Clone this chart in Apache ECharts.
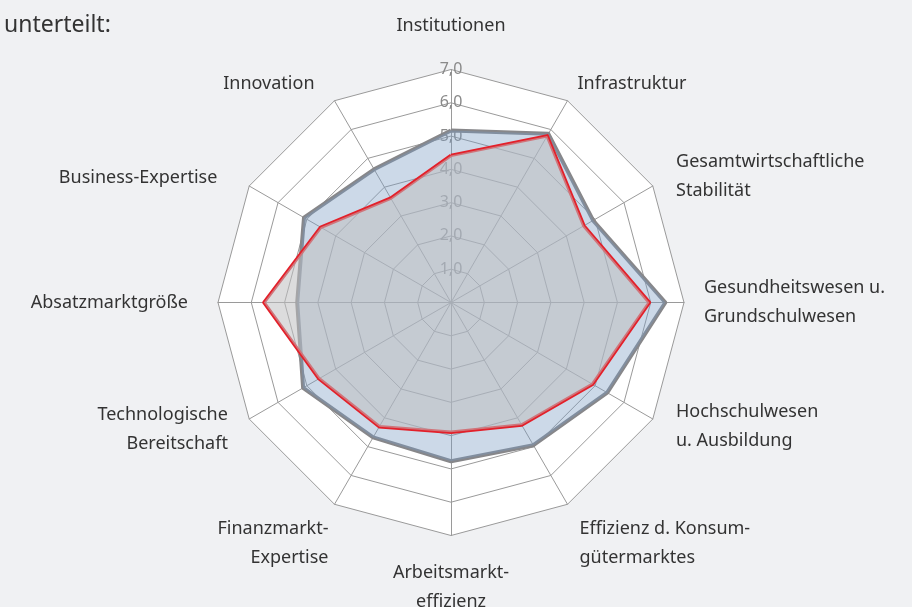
<!DOCTYPE html>
<html>
<head>
<meta charset="utf-8">
<script src="https://cdn.jsdelivr.net/npm/echarts@6/dist/echarts.min.js"></script>
<style>
  html, body { margin: 0; padding: 0; background: #f0f1f3; }
  #chart { width: 912px; height: 607px; }
</style>
</head>
<body>
<div id="chart"></div>
<script>
// Kategorien (gegen den Uhrzeigersinn ab oben, wie ECharts sie legt)
let kategorien = [
  'Institutionen',
  'Innovation',
  'Business-Expertise',
  'Absatzmarktgröße',
  'Technologische\nBereitschaft',
  'Finanzmarkt-\nExpertise',
  'Arbeitsmarkt-\neffizienz',
  'Effizienz d. Konsum-\ngütermarktes',
  'Hochschulwesen\nu. Ausbildung',
  'Gesundheitswesen u.\nGrundschulwesen',
  'Gesamtwirtschaftliche\nStabilität',
  'Infrastruktur'
];

// graue Linie, blaue Fläche
let werteGrau = [5.17, 4.62, 5.1, 4.62, 5.13, 4.68, 4.77, 4.95, 5.42, 6.44, 4.93, 5.85];
// rote Linie, graue Fläche
let werteRot = [4.42, 3.62, 4.52, 5.62, 4.58, 4.31, 3.90, 4.25, 4.91, 5.96, 4.61, 5.78];

let maxWert = 7;

// Feinkorrektur der Beschriftung: [nameGap, padding, verticalAlign]
let namePos = [
  [29, 0],
  [20, [0, 10, 0, 0]],
  [16, [0, 18, 0, 0]],
  [20, [0, 10, 0, 0]],
  [20, [0, 4, 0, 0]],
  [12, 0, 'top'],
  [23, 0],
  [12, [0, 0, 0, 6], 'top'],
  [14, [0, 0, 0, 11]],
  [20, 0],
  [20, [0, 0, 0, 6]],
  [20, 0]
];

var myChart = echarts.init(document.getElementById('chart'));

var indicator = kategorien.map(function (k, i) {
  let ind = {
    name: k, max: maxWert, min: 0,
    nameGap: namePos[i][0],
    nameTextStyle: { padding: namePos[i][1] }
  };
  if (namePos[i][2]) {
    ind.nameTextStyle.verticalAlign = namePos[i][2];
  }
  if (i == 0) {
    // nur auf der oberen Achse die Skala zeigen
    ind.axisLabel = { show: true };
  }
  return ind;
});

var option = {
  backgroundColor: '#f0f1f3',
  title: {
    text: 'unterteilt:',
    left: -1,
    top: 9,
    textStyle: { fontFamily: 'Noto Sans', fontSize: 23, fontWeight: 'normal', color: '#333' }
  },
  radar: {
    center: [451, 302.5],
    radius: 233,
    startAngle: 90,
    shape: 'polygon',
    splitNumber: 7,
    indicator: indicator,
    axisName: {
      color: '#333',
      fontFamily: 'Noto Sans',
      fontSize: 18,
      lineHeight: 29
    },
    nameGap: 20,
    splitArea: { show: true, areaStyle: { color: ['#ffffff'] } },
    splitLine: { lineStyle: { color: '#9a9a9a', width: 1 } },
    axisLine: { lineStyle: { color: '#9a9a9a', width: 1 } },
    axisTick: { show: false },
    axisLabel: {
      show: false,
      showMinLabel: false,
      margin: 0,
      align: 'center',
      verticalAlign: 'middle',
      color: '#8a8a8a',
      fontFamily: 'Noto Sans',
      fontSize: 16,
      formatter: function (v) { return v.toFixed(1).replace('.', ','); }
    }
  },
  series: [{
    type: 'radar',
    symbol: 'none',
    data: [
      {
        value: werteGrau,
        lineStyle: { color: '#87878a', width: 4 },
        areaStyle: { color: 'rgba(120,155,195,0.38)', opacity: 1 }
      },
      {
        value: werteRot,
        lineStyle: { color: '#e3202a', width: 3.5 },
        areaStyle: { color: 'rgba(190,190,192,0.54)', opacity: 1 }
      }
    ]
  }]
};

myChart.setOption(option);
</script>
</body>
</html>
